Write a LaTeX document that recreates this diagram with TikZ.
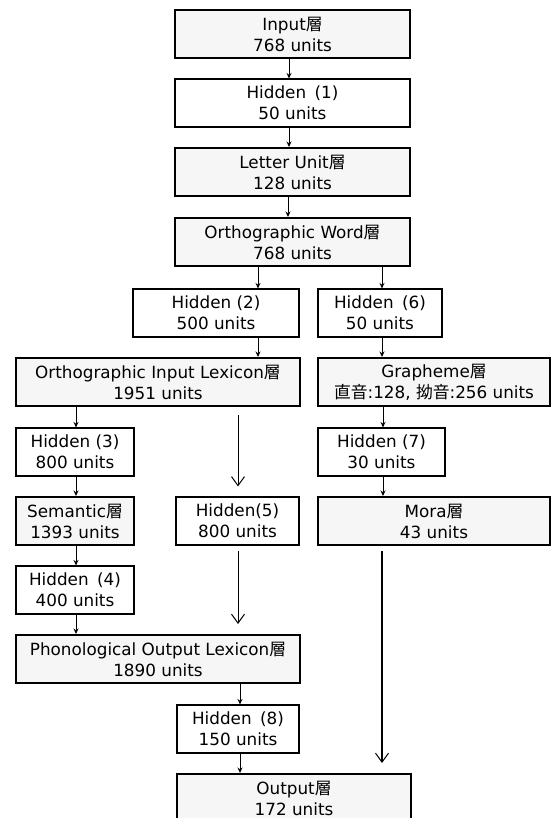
\documentclass[tikz,border=0pt]{standalone}
\usepackage{fontspec}
\setmainfont{DejaVu Sans}
\newfontfamily\jp{Noto Sans CJK JP}
\usetikzlibrary{arrows.meta}
\tikzset{
 box/.style={draw, align=center, inner sep=0pt, minimum height=48pt, font=\fontsize{16.8}{21}\selectfont},
 layer/.style={box, line width=2pt, fill=gray!7},
 hid/.style={box, line width=1.1pt, fill=white},
 sarr/.style={line width=1pt, -{Stealth[length=5.5pt,width=5pt]}},
 larr/.style={line width=0.9pt, -{Straight Barb[length=9pt,width=13pt,line width=1pt]}, shorten >=10pt},
}
\newcommand{\sou}{{\jp 層}}
\begin{document}
\begin{tikzpicture}[x=1pt,y=-1pt]
\useasboundingbox (0,0) rectangle (552,818);
\clip (0,0) rectangle (552,818);
\node[layer, minimum width=235pt] (in) at (292.5,34) {Input\sou\\768 units};
\node[hid, minimum width=235pt] (h1) at (292.5,103) {Hidden\enspace(1)\\50 units};
\node[layer, minimum width=235pt] (lu) at (292.5,172) {Letter Unit\sou\\128 units};
\node[layer, minimum width=235pt] (ow) at (292.5,242) {Orthographic Word\sou\\768 units};
\node[hid, minimum width=166pt] (h2) at (216,313) {Hidden (2)\\500 units};
\node[hid, minimum width=124pt] (h6) at (380,313) {Hidden\enspace(6)\\50 units};
\node[layer, minimum width=284pt] (oil) at (158,382) {Orthographic Input Lexicon\sou\\1951 units};
\node[layer, minimum width=232pt] (gr) at (434,382) {Grapheme\sou\\{\jp 直音}:128, {\jp 拗音}:256 units};
\node[hid, minimum width=118pt] (h3) at (75,452) {Hidden (3)\\800 units};
\node[hid, minimum width=127pt] (h7) at (381.5,452) {Hidden (7)\\30 units};
\node[layer, minimum width=118pt] (sem) at (75,521) {Semantic\sou\\1393 units};
\node[hid, minimum width=123pt] (h5) at (237.5,521) {Hidden(5)\\800 units};
\node[layer, minimum width=232pt] (mora) at (434,521) {Mora\sou\\43 units};
\node[hid, minimum width=118pt] (h4) at (75,590) {Hidden\enspace(4)\\400 units};
\node[layer, minimum width=284pt] (pol) at (158,659) {Phonological Output Lexicon\sou\\1890 units};
\node[hid, minimum width=122pt] (h8) at (238,729) {Hidden\enspace(8)\\150 units};
\node[layer, minimum width=234pt] (out) at (294,798) {Output\sou\\172 units};

\draw[sarr] (289,0 |- in.south) -- (289,0 |- h1.north);
\draw[sarr] (289,0 |- h1.south) -- (289,0 |- lu.north);
\draw[sarr] (288,0 |- lu.south) -- (288,0 |- ow.north);
\draw[sarr] (258,0 |- ow.south) -- (258,0 |- h2.north);
\draw[sarr] (382,0 |- ow.south) -- (382,0 |- h6.north);
\draw[sarr] (258,0 |- h2.south) -- (258,0 |- oil.north);
\draw[sarr] (382,0 |- h6.south) -- (382,0 |- gr.north);
\draw[sarr] (76,0 |- oil.south) -- (76,0 |- h3.north);
\draw[sarr] (383,0 |- gr.south) -- (383,0 |- h7.north);
\draw[sarr] (76,0 |- h3.south) -- (76,0 |- sem.north);
\draw[sarr] (383,0 |- h7.south) -- (383,0 |- mora.north);
\draw[sarr] (76,0 |- sem.south) -- (76,0 |- h4.north);
\draw[sarr] (76,0 |- h4.south) -- (76,0 |- pol.north);
\draw[sarr] (240,0 |- pol.south) -- (240,0 |- h8.north);
\draw[sarr] (240,0 |- h8.south) -- (240,0 |- out.north);
\draw[larr] (238,0 |- oil.south) ++(0,8) -- (238,0 |- h5.north);
\draw[larr] (238,0 |- h5.south) ++(0,5) -- (238,0 |- pol.north);
\draw[larr, line width=1.4pt] (382,0 |- mora.south) ++(0,5) -- (382,0 |- out.north);
\end{tikzpicture}
\end{document}
